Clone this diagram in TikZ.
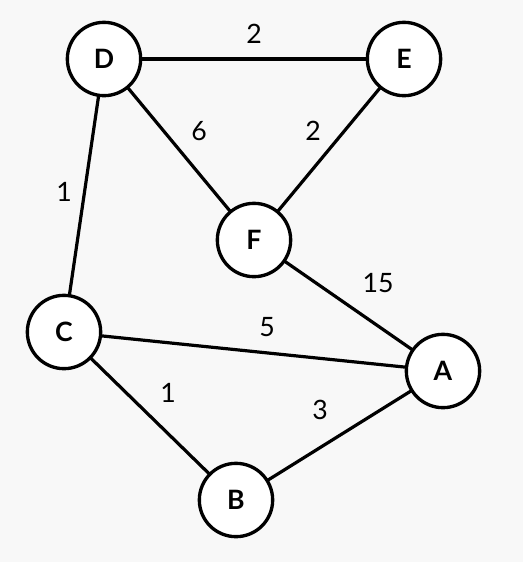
\documentclass[tikz,border=0pt]{standalone}
\usepackage{fontspec}
\setmainfont{Lato}
\definecolor{paper}{HTML}{F8F8F8}

\begin{document}
\begin{tikzpicture}[x=0.75pt,y=-0.75pt,
  vertex/.style={circle,draw=black,fill=white,line width=2.5pt,minimum size=55pt,inner sep=0pt,font=\fontsize{20}{24}\selectfont\bfseries},
  weight/.style={font=\fontsize{20}{24}\selectfont},
  link/.style={line width=2.4pt}]
\fill[paper] (0,0) rectangle (523,562);
\useasboundingbox (0,0) rectangle (523,562);
% edges first, vertices on top
\coordinate (d) at (104,59);
\coordinate (e) at (404,59);
\coordinate (f) at (254,240);
\coordinate (c) at (64,332);
\coordinate (a) at (443,371);
\coordinate (b) at (236,500);
\draw[link] (d) -- (e);
\draw[link] (d) -- (f);
\draw[link] (e) -- (f);
\draw[link] (d) -- (c);
\draw[link] (f) -- (a);
\draw[link] (c) -- (a);
\draw[link] (c) -- (b);
\draw[link] (b) -- (a);
\node[vertex] (D) at (d) {D};
\node[vertex] (E) at (e) {E};
\node[vertex] (F) at (f) {F};
\node[vertex] (C) at (c) {C};
\node[vertex] (A) at (a) {A};
\node[vertex] (B) at (b) {B};
\node[weight] (wde) at (254,34) {2};
\node[weight] (wdf) at (199,131) {6};
\node[weight] (wef) at (313,131) {2};
\node[weight] (wdc) at (64,192) {1};
\node[weight] (wfa) at (378,283) {15};
\node[weight] (wca) at (267,327) {5};
\node[weight] (wcb) at (168,393) {1};
\node[weight] (wba) at (320,410) {3};
\end{tikzpicture}
\end{document}
